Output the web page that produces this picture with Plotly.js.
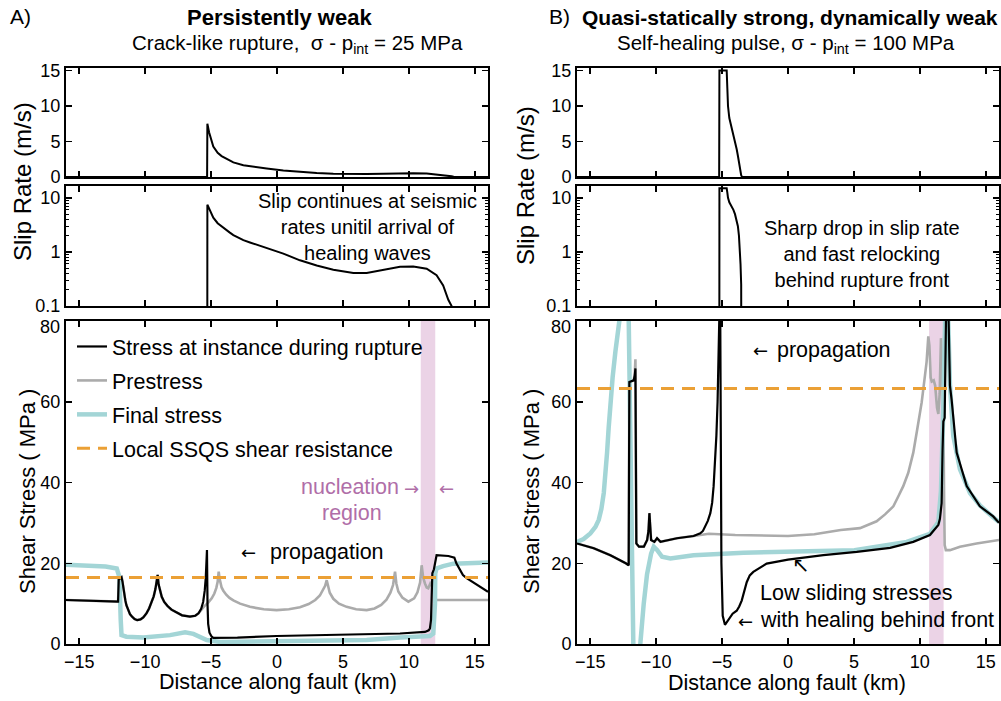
<!DOCTYPE html>
<html><head><meta charset="utf-8">
<script src="https://cdn.plot.ly/plotly-3.0.1.min.js"></script>
<style>html,body{margin:0;padding:0;background:#fff}#chart{width:1001px;height:701px}</style>
</head><body><div id="chart"></div>
<script>
// ---------- data ----------
const ticksX = [-15, -10, -5, 0, 5, 10, 15];
const ticksSlip = [0, 5, 10, 15];
const ticksLog = [0.1, 1, 10];
const ticksLogText = ['0.1', '1', '10'];
const ticksStress = [0, 20, 40, 60];
const topStressLabel = '80';

// Panel A: slip rate (m/s) along fault (km); 1e-9 = locked
const slipA_x = [-16, -5.3, -5.28, -5.15, -4.83, -4.5, -4.2, -3.6, -3.31, -2.55, -2.05, -0.78, 0.48, 1.74, 3.01, 4.27, 5.79, 6.8, 8.06, 9.33, 10.33, 11.35, 12.1, 12.6, 12.99, 13.24, 13.4, 13.6, 16];
const slipA_v = [1e-9, 1e-9, 7.5, 6.3, 4.3, 3.4, 2.95, 2.3, 2.05, 1.65, 1.5, 1.2, 0.93, 0.70, 0.56, 0.47, 0.41, 0.41, 0.46, 0.53, 0.54, 0.49, 0.37, 0.24, 0.13, 0.1, 0.05, 1e-9, 1e-9];

// Panel B: slip rate
const slipB_x = [-16, -5.22, -5.2, -4.65, -4.6, -4.55, -4.45, -4.3, -4.14, -4.02, -3.89, -3.8, -3.72, -3.66, -3.6, -3.55, -3.51, -3.48, 16];
const slipB_v = [1e-9, 1e-9, 15, 15, 12.5, 10.0, 8.3, 7.2, 6.0, 5.0, 3.9, 3.0, 2.0, 1.2, 0.6, 0.25, 0.1, 1e-9, 1e-9];

// Panel A: shear stress (MPa)
const stressA_x = [-16, -14, -12.05, -12.0, -11.85, -11.79, -11.72, -11.67, -11.6, -11.5, -11.42, -11.3, -11.15, -11.0, -10.8, -10.6, -10.35, -10.14, -9.9, -9.7, -9.5, -9.35, -9.22, -9.12, -9.05, -8.98, -8.88, -8.74, -8.55, -8.3, -8.0, -7.6, -7.2, -6.6, -6.2, -5.95, -5.75, -5.6, -5.48, -5.4, -5.34, -5.31, -5.27, -5.22, -5.12, -4.95, -4.83, -3, -0.03, 3, 6, 9.33, 11.22, 11.5, 11.6, 11.68, 11.73, 11.78, 11.9, 12.0, 12.1, 13.0, 13.45, 13.6, 13.87, 14.1, 14.38, 15.14, 16];
const stressA_y = [10.9, 10.7, 10.5, 16.0, 16.3, 16.5, 15.5, 14.2, 12.6, 10.8, 9.6, 8.4, 7.4, 6.8, 6.2, 5.9, 6.1, 6.6, 7.6, 8.8, 10.3, 11.8, 13.6, 15.3, 17.1, 14.8, 13.2, 11.7, 10.4, 9.4, 8.5, 7.7, 7.1, 6.8, 7.0, 7.6, 8.7, 10.4, 13.2, 16.5, 20.5, 23.3, 10.0, 5.0, 2.8, 1.8, 1.5, 1.6, 1.98, 2.2, 2.4, 2.6, 3.0, 3.4, 3.9, 6.0, 12.0, 17.5, 18.5, 20.5, 22.0, 21.8, 21.4, 20.0, 18.3, 17.1, 16.3, 14.6, 12.9];

const preA_x = [-16, -14, -12.05, -12.0, -11.8, -11.72, -11.67, -11.6, -11.5, -11.42, -11.3, -11.15, -11.0, -10.8, -10.6, -10.35, -10.14, -9.9, -9.7, -9.5, -9.35, -9.22, -9.12, -9.05, -8.98, -8.88, -8.74, -8.55, -8.3, -8.0, -7.6, -7.2, -6.6, -6.2, -5.95, -5.75, -5.5, -5.2, -4.95, -4.75, -4.6, -4.5, -4.42, -4.36, -4.3, -4.2, -4.07, -3.85, -3.6, -3.31, -2.8, -2.05, -1.0, -0.03, 0.9, 1.74, 2.4, 2.9, 3.25, 3.5, 3.65, 3.77, 3.88, 4.0, 4.27, 4.7, 5.28, 6.0, 6.8, 7.4, 7.9, 8.3, 8.6, 8.8, 8.95, 9.05, 9.2, 9.5, 9.96, 10.4, 10.65, 10.85, 10.97, 11.08, 11.22, 11.35, 11.47, 11.6, 11.68, 11.78, 11.85, 11.95, 12.1, 16];
const preA_y = [10.9, 10.7, 10.5, 16.0, 17.0, 15.5, 14.2, 12.6, 10.8, 9.6, 8.4, 7.4, 6.8, 6.2, 5.9, 6.1, 6.6, 7.6, 8.8, 10.3, 11.8, 13.6, 15.3, 17.1, 14.8, 13.2, 11.7, 10.4, 9.4, 8.5, 7.7, 7.1, 6.8, 7.0, 7.6, 8.4, 9.4, 10.3, 11.3, 12.5, 13.9, 15.4, 17.9, 16.3, 15.0, 14.0, 13.2, 12.2, 11.4, 10.8, 10.0, 9.2, 8.6, 8.4, 8.6, 9.1, 9.9, 10.9, 12.0, 13.3, 14.4, 15.8, 14.0, 12.7, 11.2, 10.0, 9.2, 8.6, 8.4, 8.8, 9.7, 11.0, 12.7, 14.6, 17.9, 15.0, 13.0, 11.5, 10.5, 11.3, 12.8, 15.2, 19.5, 16.5, 15.0, 14.0, 13.8, 14.8, 15.4, 14.0, 13.4, 11.5, 10.9, 10.9];

const finA_x = [-16, -13, -12.15, -12.0, -11.95, -11.85, -11.79, -11.42, -10.14, -8.11, -6.97, -6.34, -5.8, -5.33, -4.32, -0.03, 3, 6.8, 9.33, 11.6, 11.85, 11.98, 12.0, 12.1, 12.6, 13.37, 16];
const finA_y = [19.6, 19.2, 18.7, 17.5, 16.6, 5.9, 2.2, 1.8, 1.6, 2.2, 2.9, 2.5, 1.7, 1.0, 0.5, 0.6, 0.8, 1.0, 1.6, 2.0, 2.6, 10.0, 17.5, 18.7, 19.3, 19.9, 20.2];

// Panel B: shear stress (MPa)
const stressB_x = [-16, -14.73, -13.47, -12.71, -12.3, -12.08, -12.03, -11.7, -11.62, -11.57, -11.53, -11.5, -11.3, -10.93, -10.68, -10.58, -10.51, -10.45, -10.38, -10.13, -9.93, -9.67, -9.17, -8.42, -7.16, -6.9, -6.65, -6.45, -6.27, -6.08, -5.89, -5.75, -5.64, -5.53, -5.43, -5.34, -5.26, -5.2, -5.15, -5.05, -4.95, -4.78, -4.5, -4.2, -3.89, -3.7, -3.51, -3.3, -3.13, -2.9, -2.63, -1.62, 0, 2.68, 5.21, 7.74, 9.5, 10.76, 11.4, 11.52, 11.65, 11.72, 11.78, 11.88, 11.93, 11.98, 12.1, 12.15, 12.28, 12.41, 12.79, 13.55, 14.55, 15.56, 16];
const stressB_y = [24.9, 23.7, 22.0, 20.75, 20.0, 19.5, 64.9, 65.3, 66.5, 68.25, 45, 24.9, 24.1, 24.1, 25.75, 28, 32.4, 28, 25.75, 25.3, 26.2, 25.3, 25.6, 26.2, 26.75, 27.0, 27.4, 28.0, 29.1, 30.5, 32.4, 35.0, 39.1, 44.5, 51.6, 60, 72.4, 90, 90, 20, 7.0, 4.75, 6.2, 7.5, 8.25, 9.3, 10.75, 13.5, 15.3, 17.0, 17.85, 19.9, 20.9, 22.0, 22.8, 23.8, 25.3, 27.0, 29.5, 31, 34.9, 48, 55.1, 56, 70, 85, 110, 85, 64, 60.4, 47.4, 39.1, 34.1, 31.6, 30.0];

const preB_x = [-16, -14.73, -13.47, -12.71, -12.3, -12.08, -12.03, -11.7, -11.62, -11.57, -11.53, -11.5, -11.3, -10.93, -10.68, -10.58, -10.51, -10.45, -10.38, -10.13, -9.93, -9.67, -9.17, -8.42, -7.16, -6.0, -4.0, -2.0, 0, 2.0, 4.0, 5.46, 6.09, 6.72, 7.36, 7.99, 8.37, 8.74, 9.12, 9.5, 9.8, 10.14, 10.39, 10.51, 10.64, 10.72, 10.82, 10.9, 11.05, 11.16, 11.3, 11.4, 11.5, 11.6, 11.7, 11.78, 11.84, 11.88, 11.97, 12.28, 13.04, 14.3, 16];
const preB_y = [24.9, 23.7, 22.0, 20.75, 20.0, 19.5, 64.9, 65.3, 67, 70.5, 45, 24.9, 24.1, 24.1, 25.75, 28, 32.4, 28, 25.75, 25.3, 26.2, 25.3, 25.6, 26.2, 26.75, 27.3, 27.0, 26.8, 26.75, 27.2, 28.25, 28.7, 29.6, 30.4, 32.1, 34.1, 36.6, 39.1, 42.4, 47.4, 53.2, 59.9, 66.6, 69.9, 76.2, 74, 66, 65.0, 65.3, 64.0, 58.5, 57.0, 62, 75.75, 66, 58, 35, 24.5, 23.25, 23.25, 24.1, 24.9, 25.75];

const finB_x = [-16, -15.5, -14.99, -14.6, -14.35, -14.15, -13.97, -13.85, -13.72, -13.6, -13.47, -13.3, -13.09, -12.9, -12.76, -12.5, -12.3, -12.08, -12.0, -11.9, -11.83, -11.78, -11.75, -11.7, -11.6, -11.35, -11.2, -10.94, -10.69, -10.38, -10.18, -9.93, -9.55, -8.92, -7.16, -3.37, 0, 5.04, 9.0, 10.76, 11.4, 11.6, 11.75, 11.9, 11.98, 12.05, 12.15, 12.28, 12.53, 13.04, 13.8, 14.55, 15.56, 16];
const finB_y = [25.3, 26.0, 27.4, 29.0, 30.75, 33.5, 37.4, 41.5, 47.4, 53.5, 59.9, 66.0, 72.4, 77.0, 80.75, 100, 100, 80.75, 64.3, 47.4, 30.75, 22.4, 14.1, 0.3, -30, -30, 0, 10, 17.25, 22.4, 24.1, 23.3, 21.6, 21.2, 22.0, 22.6, 22.8, 23.25, 25.3, 27.3, 30.2, 38, 55, 72.4, 80.75, 100, 80, 64.1, 51.6, 43.25, 37.4, 34.3, 31.4, 30.2];

const ssqsA = 16.5;   // local SSQS shear resistance, MPa
const ssqsB = 63.3;
const nucA = [10.9, 12.0];  // nucleation region, km
const nucB = [10.7, 11.8];
const faultEnds = [-16, 16];

// ---------- styling ----------
const W = 1001, H = 701;
const FONT = 'Liberation Sans, Arial, Helvetica, sans-serif';
const ARROWFONT = 'DejaVu Sans, sans-serif';
const C_BLACK = '#000000', C_GRAY = '#ABABAB', C_TEAL = '#A3D5D6', C_ORANGE = '#EBA035', C_PINK = '#EBD3E6', C_PURPLE = '#B06EA8';
const px = v => v / W, py = v => 1 - v / H;
const dX = (a, b) => [a / W, b / W];
const dY = (top, bot) => [1 - bot / H, 1 - top / H];

function axis(extra) {
  return Object.assign({
    showline: true, linecolor: '#000', linewidth: 2, mirror: 'ticks',
    ticks: 'inside', ticklen: 6, tickwidth: 1.5, tickcolor: '#000',
    showgrid: false, zeroline: false, fixedrange: true,
    tickfont: {family: FONT, size: 18, color: '#000'}
  }, extra);
}
const xA = dX(66, 488), xB = dX(577, 999);
const yTop = dY(68, 177), yLog = dY(186, 306), yStr = dY(321, 644);
const logMinor = [0.2,0.3,0.4,0.5,0.6,0.7,0.8,0.9,2,3,4,5,6,7,8,9];

function xax(dom, anchor, labels) {
  return axis({domain: dom, anchor: anchor, range: faultEnds, tickmode: 'array', tickvals: ticksX, showticklabels: labels});
}
function logax(anchor) {
  return axis({domain: yLog, anchor: anchor, type: 'log', range: [-1, 1.22], tickmode: 'array', tickvals: ticksLog, ticktext: ticksLogText,
    minor: {tickmode: 'array', tickvals: logMinor, ticks: 'inside', ticklen: 3, tickwidth: 1, tickcolor: '#000'}});
}
const layout = {
  width: W, height: H, margin: {l: 0, r: 0, t: 0, b: 0},
  paper_bgcolor: '#fff', plot_bgcolor: 'rgba(0,0,0,0)',
  font: {family: FONT, color: '#000'},
  xaxis: xax(xA, 'y', false),
  yaxis: axis({domain: yTop, anchor: 'x', range: [0, 15.35], tickmode: 'array', tickvals: ticksSlip}),
  xaxis2: xax(xA, 'y2', false),
  yaxis2: logax('x2'),
  xaxis3: xax(xA, 'y3', true),
  yaxis3: axis({domain: yStr, anchor: 'x3', range: [0, 80], tickmode: 'array', tickvals: ticksStress}),
  xaxis4: xax(xB, 'y4', false),
  yaxis4: axis({domain: yTop, anchor: 'x4', range: [0, 15.35], tickmode: 'array', tickvals: ticksSlip}),
  xaxis5: xax(xB, 'y5', false),
  yaxis5: logax('x5'),
  xaxis6: xax(xB, 'y6', true),
  yaxis6: axis({domain: yStr, anchor: 'x6', range: [0, 80], tickmode: 'array', tickvals: ticksStress}),
  showlegend: true,
  legend: {x: px(72), y: py(326), xanchor: 'left', yanchor: 'top', bgcolor: 'rgba(0,0,0,0)',
    font: {family: FONT, size: 21.5, color: '#000'}, traceorder: 'grouped', tracegroupgap: 3, itemwidth: 30},
  shapes: [
    {type: 'rect', xref: 'x3', yref: 'y3', x0: nucA[0], x1: nucA[1], y0: 0, y1: 80, fillcolor: C_PINK, line: {width: 0}, layer: 'below'},
    {type: 'rect', xref: 'x6', yref: 'y6', x0: nucB[0], x1: nucB[1], y0: 0, y1: 80, fillcolor: C_PINK, line: {width: 0}, layer: 'below'}
  ],
  annotations: []
};

function ann(text, x, y, o) {
  const base = {text: text, x: px(x), y: py(y), xref: 'paper', yref: 'paper',
    showarrow: false, xanchor: 'center', yanchor: 'middle', font: {family: FONT, size: 21.5, color: '#000'}};
  o = o || {};
  if (o.font) { o.font = Object.assign({}, base.font, o.font); }
  layout.annotations.push(Object.assign(base, o));
}
// top tick label of the stress axes (nudged down as in the reference)
ann(topStressLabel, 62, 327, {xanchor: 'right', font: {size: 18}});
ann(topStressLabel, 573, 327, {xanchor: 'right', font: {size: 18}});
// titles
ann('A)', 8, 16, {xanchor: 'left', font: {size: 21}});
ann('<b>Persistently weak</b>', 279, 17, {font: {size: 22}});
ann('Crack-like rupture,  σ - p<sub>int</sub> = 25 MPa', 297, 44, {font: {size: 20.5}});
ann('B)', 547, 16, {xanchor: 'left', font: {size: 21}});
ann('<b>Quasi-statically strong, dynamically weak</b>', 790, 17, {font: {size: 21}});
ann('Self-healing pulse, σ - p<sub>int</sub> = 100 MPa', 786, 44, {font: {size: 20.5}});
// axis titles
ann('Slip Rate (m/s)', 22, 182, {textangle: -90, font: {size: 24}});
ann('Slip Rate (m/s)', 525, 186, {textangle: -90, font: {size: 24}});
ann('Shear Stress ( MPa )', 27, 492, {textangle: -90, font: {size: 22}});
ann('Shear Stress ( MPa )', 531, 492, {textangle: -90, font: {size: 22}});
ann('Distance along fault (km)', 278, 682);
ann('Distance along fault (km)', 787, 683);
// panel text
ann('Slip continues at seismic<br>rates unitil arrival of<br>healing waves', 367, 227, {font: {size: 20}});
ann('Sharp drop in slip rate<br>and fast relocking<br>behind rupture front', 862, 254, {font: {size: 20}});
ann('←', 248, 552, {font: {family: ARROWFONT, size: 18}});
ann('propagation', 268, 552, {xanchor: 'left'});
ann('←', 760, 350, {font: {family: ARROWFONT, size: 18}});
ann('propagation', 775, 350, {xanchor: 'left'});
ann('nucleation', 401, 487, {xanchor: 'right', font: {color: C_PURPLE}});
ann('→', 411, 488, {font: {family: ARROWFONT, size: 18, color: C_PURPLE}});
ann('←', 446, 488, {font: {family: ARROWFONT, size: 18, color: C_PURPLE}});
ann('region', 352, 513, {font: {color: C_PURPLE}});
ann('Low sliding stresses', 758, 593, {xanchor: 'left'});
ann('with healing behind front', 758, 620, {xanchor: 'left'});
ann('←', 745, 621, {font: {family: ARROWFONT, size: 18}});
ann('↖', 801, 565, {font: {family: ARROWFONT, size: 21}});

// ---------- traces ----------
function line(x, y, xa, ya, color, width, extra) {
  return Object.assign({type: 'scatter', mode: 'lines', x: x, y: y, xaxis: xa, yaxis: ya,
    line: {color: color, width: width}, showlegend: false, hoverinfo: 'skip'}, extra || {});
}
const traces = [
  line(slipA_x, slipA_v, 'x', 'y', C_BLACK, 2),
  line(slipA_x, slipA_v, 'x2', 'y2', C_BLACK, 2),
  line(slipB_x, slipB_v, 'x4', 'y4', C_BLACK, 2),
  line(slipB_x, slipB_v, 'x5', 'y5', C_BLACK, 2),
  line(preA_x, preA_y, 'x3', 'y3', C_GRAY, 2.6, {showlegend: true, name: 'Prestress', legendgroup: 'b', legendrank: 2}),
  line(finA_x, finA_y, 'x3', 'y3', C_TEAL, 4.5, {showlegend: true, name: 'Final stress', legendgroup: 'c', legendrank: 3}),
  line(stressA_x, stressA_y, 'x3', 'y3', C_BLACK, 2.2, {showlegend: true, name: 'Stress at instance during rupture', legendgroup: 'a', legendrank: 1}),
  line(faultEnds, [ssqsA, ssqsA], 'x3', 'y3', C_ORANGE, 3, {showlegend: true, name: 'Local SSQS shear resistance', legendgroup: 'd', legendrank: 4}),
  line(preB_x, preB_y, 'x6', 'y6', C_GRAY, 2.6),
  line(finB_x, finB_y, 'x6', 'y6', C_TEAL, 4.5),
  line(stressB_x, stressB_y, 'x6', 'y6', C_BLACK, 2.2),
  line(faultEnds, [ssqsB, ssqsB], 'x6', 'y6', C_ORANGE, 3)
];
traces[7].line.dash = '13px,8px';
traces[11].line.dash = '13px,8px';

Plotly.newPlot('chart', traces, layout, {staticPlot: true, displayModeBar: false});
</script></body></html>
